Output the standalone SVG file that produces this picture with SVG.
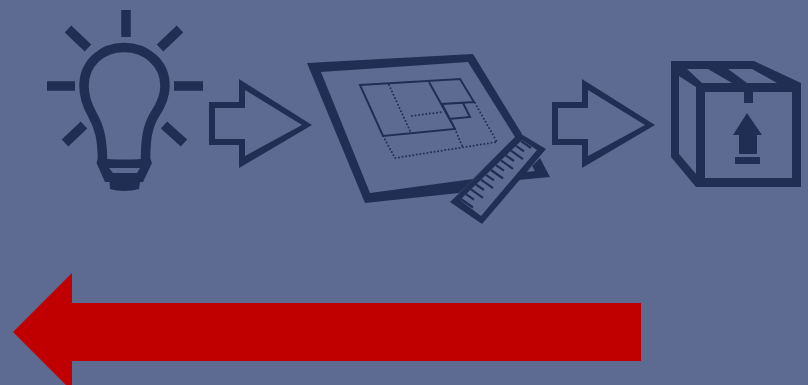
<svg xmlns="http://www.w3.org/2000/svg" width="808" height="385" viewBox="0 0 808 385">
<style>
.d{fill:#212e53}
.r{fill:none;stroke:#212e53;stroke-width:9.500}
.s{fill:none;stroke:#212e53;stroke-width:2}
.o{fill:none;stroke:#212e53;stroke-width:2;stroke-linecap:round;stroke-dasharray:0 3.600}
.t{fill:none;stroke:#212e53;stroke-width:2.200}
</style>
<rect width="808" height="385" fill="#5d6b93"/>
<g id="bulb">
<path class="r" d="M126 10V37M47 86H75M174 86H203M68 29L88 48M180 29L160 48M65 143L84 125M184 143L164 125"/>
<path class="r" d="M102.500 163C102.500 140 100 128 92 114C87 105 84 96 84 86C84 63 102 47.500 124 47.500C146 47.500 165 63 165 86C165 96 161 105 155 114C147 127 145.500 140 145.500 163"/>
<path class="d" fill-rule="evenodd" d="M96.500 163L105 182H109.500L110 189C118 191.500 130 191.500 139 189L140 182H143L152 163L150 158C135 160 115 160 98 158ZM109 168H140L137 173H113Z"/>
</g>
<g id="arrow1">
<path class="d" fill-rule="evenodd" d="M209 102H239V79L312 125L239 168V145H209ZM215 108V139H245V156L302 125L245 90V108Z"/>
</g>
<g id="blueprint">
<path class="d" fill-rule="evenodd" d="M307 63L473 54L522 134L459 193L365 203ZM321 72L370 193L473 179L515 137L468 62Z"/>
<path class="d" fill-rule="evenodd" d="M450 202L521 134L546 149L482 224ZM460 200L481 216L537 150L522 140Z"/>
<path class="d" fill-rule="evenodd" d="M540 158L550 177L518 180ZM532 166L535 171L527 172Z"/>
<path class="t" d="M461 199L473 207.500M466 194.200L474 199.700M471 189.300L483 197.800M476 184.500L484 190M481 179.700L493 188.200M486 174.900L494 180.400M491 170L503 178.500M496 165.200L504 170.700M501 160.400L513 168.900M506 155.500L514 161M511 150.700L523 159.200M516 145.900L524 151.400M521 141L531 148"/>
<path class="s" d="M360 85L460 79L474 102L442 104L455 129L383 136ZM429 82L455 129M463 103L470 117L449 119"/>
<path class="o" d="M389 85L410 131M412 116L442 112M475 103L497 142L395 158L383 136M455 129L463 148"/>
</g>
<g id="arrow2">
<path class="d" fill-rule="evenodd" d="M552 102H582V79L655 125L582 168V145H552ZM558 108V139H588V156L645 125L588 90V108Z"/>
</g>
<g id="box">
<path class="d" fill-rule="evenodd" d="M671 61H754L801 83V187H696L671 157ZM705 92V178H792V92H753V103H744V92ZM679 76V154L696 174V87ZM687 69L702 83H732L708 69ZM728 69L747 83H777L752 69Z"/>
<path class="d" d="M747 113L762 135H757V154H739V135H733ZM735 157H760V164H735Z"/>
</g>
<g id="return-arrow">
<path fill="#c00000" d="M641 303H72V273L13 332L72 391V361H641Z"/>
</g>
<g id="connectors"/>
</svg>
